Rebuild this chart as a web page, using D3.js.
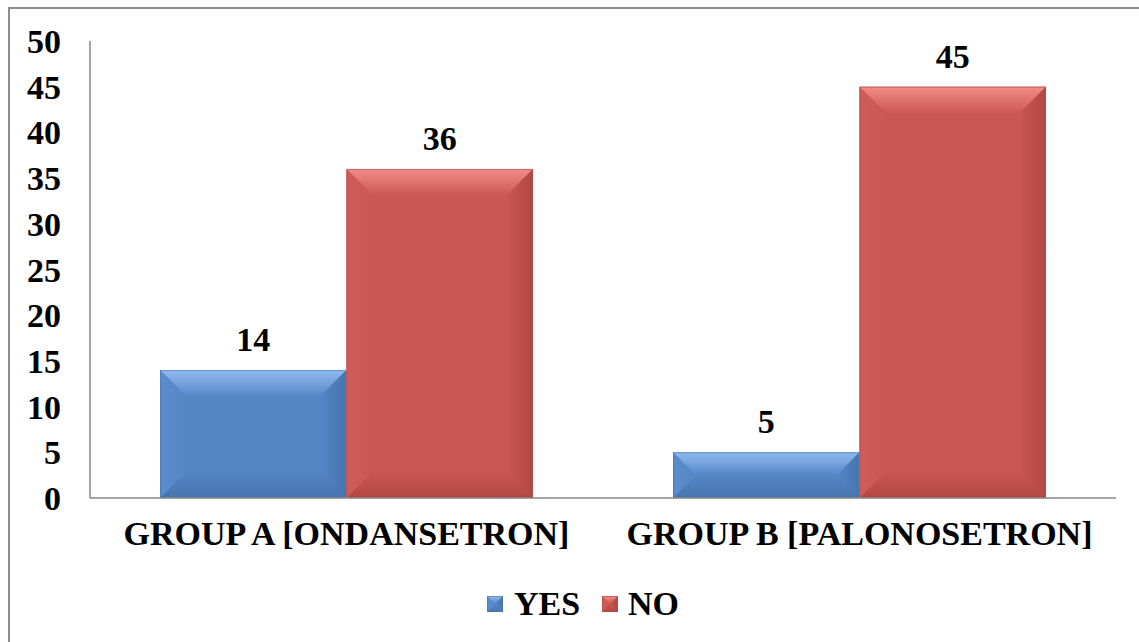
<!DOCTYPE html>
<html><head><meta charset="utf-8"><script src="https://cdn.jsdelivr.net/npm/d3@7"></script></head>
<body style="margin:0">
<svg id="s" width="1139" height="642"></svg>
<script>
// Chart data
const categories = ["GROUP A [ONDANSETRON]", "GROUP B [PALONOSETRON]"];
const seriesNames = ["YES", "NO"];
const yesValues = [14, 5];
const noValues = [36, 45];
const yTicks = [0, 5, 10, 15, 20, 25, 30, 35, 40, 45, 50];

const palette = {
  YES: { face: "#5587c6", light: "#90bbf0", side: "#5b8cce", dark: "#4674ad", edge: "#4a78b0" },
  NO:  { face: "#cc5653", light: "#f38c88", side: "#d05c59", dark: "#b24644", edge: "#b44c4a" }
};

const svg = d3.select("#s");
const W = 1139, H = 642;
const plot = { left: 90, right: 1116, top: 41, bottom: 498 };

// Outer frame (extends past right and bottom edges)
svg.append("rect")
  .attr("x", 9).attr("y", 8)
  .attr("width", W + 20).attr("height", H + 20)
  .attr("fill", "#fff").attr("stroke", "#8c8c8c").attr("stroke-width", 2);

const y = d3.scaleLinear().domain([0, 50]).range([plot.bottom, plot.top]);
const x0 = d3.scaleBand().domain(categories)
  .range([plot.left, plot.right])
  .paddingInner(0.273).paddingOuter(0.1365);
const x1 = d3.scaleBand().domain(seriesNames).range([0, x0.bandwidth()]).padding(0);

// Gradients for the bevel faces
const defs = svg.append("defs");
function grad(id, x1v, y1v, x2v, y2v, stops) {
  const g = defs.append("linearGradient").attr("id", id)
    .attr("x1", x1v).attr("y1", y1v).attr("x2", x2v).attr("y2", y2v);
  stops.forEach(s => g.append("stop").attr("offset", s[0]).attr("stop-color", s[1]));
}
Object.entries(palette).forEach(([k, p]) => {
  grad(`top-${k}`, 0, 0, 0, 1, [[0, p.light], [1, p.face]]);
  grad(`left-${k}`, 0, 0, 1, 0, [[0, p.side], [1, p.face]]);
  grad(`right-${k}`, 0, 0, 1, 0, [[0, p.face], [1, p.dark]]);
  grad(`bottom-${k}`, 0, 0, 0, 1, [[0, p.face], [1, p.dark]]);
});

// Draw a bevelled rectangle (face + four trapezoid edges)
function bevel(key, bx, by, bw, bh, maxB) {
  const p = palette[key];
  const b = Math.min(maxB, bh / 2, bw / 2);
  const x2 = bx + bw, y2 = by + bh;
  svg.append("rect").attr("x", bx).attr("y", by).attr("width", bw).attr("height", bh).attr("fill", p.face);
  const poly = (pts, fill) => svg.append("polygon")
    .attr("points", pts.map(q => q.join(",")).join(" ")).attr("fill", fill);
  poly([[bx, by], [x2, by], [x2 - b, by + b], [bx + b, by + b]], `url(#top-${key})`);
  poly([[bx, y2], [x2, y2], [x2 - b, y2 - b], [bx + b, y2 - b]], `url(#bottom-${key})`);
  poly([[bx, by], [bx + b, by + b], [bx + b, y2 - b], [bx, y2]], `url(#left-${key})`);
  poly([[x2, by], [x2 - b, by + b], [x2 - b, y2 - b], [x2, y2]], `url(#right-${key})`);
  svg.append("rect").attr("x", bx + 0.5).attr("y", by + 0.5)
    .attr("width", Math.max(0, bw - 1)).attr("height", Math.max(0, bh - 1))
    .attr("fill", "none").attr("stroke", p.edge).attr("stroke-opacity", 0.6).attr("stroke-width", 1);
}

// Text helper: bold serif labels
function addText(x, yPos, str, anchor) {
  return svg.append("text").attr("x", x).attr("y", yPos)
    .attr("font-family", "Liberation Serif").attr("font-weight", "bold").attr("font-size", 34)
    .attr("text-anchor", anchor)
    .text(str);
}

// Bars and value labels
categories.forEach((c, i) => {
  [["YES", yesValues[i]], ["NO", noValues[i]]].forEach(([key, value]) => {
    const bx = x0(c) + x1(key);
    const by = y(value);
    bevel(key, bx, by, x1.bandwidth(), y(0) - by, 27);
    addText(bx + x1.bandwidth() / 2, by - 19, value, "middle");
  });
});

// Axis lines
svg.append("line")
  .attr("x1", plot.left).attr("x2", plot.left)
  .attr("y1", plot.top).attr("y2", plot.bottom)
  .attr("stroke", "#868686").attr("stroke-width", 1.5);
svg.append("line")
  .attr("x1", plot.left).attr("x2", plot.right)
  .attr("y1", plot.bottom).attr("y2", plot.bottom)
  .attr("stroke", "#868686").attr("stroke-width", 1.5);

// Y tick labels
yTicks.forEach(t => addText(61, y(t) + 12, t, "end"));

// Category labels
categories.forEach(c => addText(x0(c) + x0.bandwidth() / 2, 545, c, "middle"));

// Legend
[{ key: "YES", mx: 487, tx: 514 }, { key: "NO", mx: 602, tx: 628 }].forEach(it => {
  bevel(it.key, it.mx, 596, 16, 16, 8);
  addText(it.tx, 615, it.key, "start");
});
</script>
</body>
</html>
